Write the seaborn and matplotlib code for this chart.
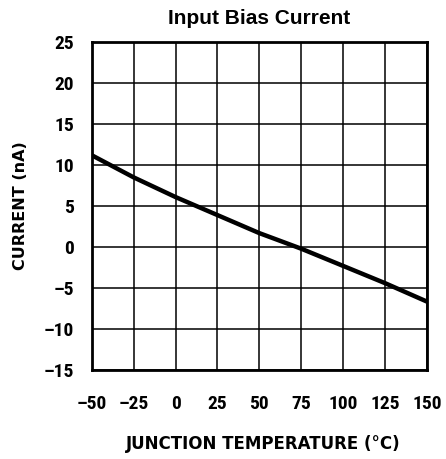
import matplotlib
matplotlib.use("Agg")
import matplotlib.pyplot as plt
import seaborn as sns
import pandas as pd
from matplotlib import font_manager

temperature = [-50, -25, 0, 25, 50, 75, 100, 125, 150]
current_nA = [11.2, 8.5, 6.1, 3.9, 1.7, -0.2, -2.3, -4.4, -6.65]
x_ticks = [-50, -25, 0, 25, 50, 75, 100, 125, 150]
y_ticks = [-15, -10, -5, 0, 5, 10, 15, 20, 25]

sns.set_theme(style="white")
names = {f.name for f in font_manager.fontManager.ttflist}
narrow = "DejaVu Sans"
for cand in ["Liberation Sans Narrow", "DejaVu Sans Condensed", "Roboto Condensed",
             "Open Sans Condensed", "Noto Sans Condensed"]:
    if cand in names:
        narrow = cand
        break
plt.rcParams['font.family'] = ['DejaVu Sans']
plt.rcParams['text.color'] = 'black'
plt.rcParams['axes.labelcolor'] = 'black'

df = pd.DataFrame({"T": temperature, "I": current_nA})

fig = plt.figure(figsize=(4.46, 4.59), dpi=100)
ax = fig.add_axes([0.206, 0.194, 0.751, 0.714])
sns.lineplot(data=df, x="T", y="I", ax=ax, color="black", linewidth=3.2)

def fmt(v):
    return str(v).replace("-", "\u2013")

ax.set_xlim(-50, 150)
ax.set_ylim(-15, 25)
ax.set_xticks(x_ticks)
ax.set_yticks(y_ticks)
ax.set_xticklabels([fmt(v) for v in x_ticks], fontsize=14,
                   fontweight="bold", fontfamily=[narrow, "DejaVu Sans"])
ax.set_yticklabels([fmt(v) for v in y_ticks], fontsize=14,
                   fontweight="bold", fontfamily=[narrow, "DejaVu Sans"])
ax.grid(True, color="black", linewidth=1.1)
for s in ax.spines.values():
    s.set_color("black")
    s.set_linewidth(2.0)
    s.set_visible(True)
ax.tick_params(axis="x", length=0, pad=18, colors="black")
ax.tick_params(axis="y", length=0, pad=13, colors="black")

ax.set_xlabel("JUNCTION TEMPERATURE (°C)", fontsize=12, fontweight="bold")
ax.xaxis.set_label_coords(0.513, -0.2)
ax.set_ylabel("CURRENT (nA)", fontsize=11.5, fontweight="bold")
ax.yaxis.set_label_coords(-0.19, 0.5)
ax.set_title("Input Bias Current", fontsize=15, fontweight="bold",
             fontfamily="Liberation Sans", pad=13, color="black")

fig.savefig("out.png", dpi=100, facecolor="white")
